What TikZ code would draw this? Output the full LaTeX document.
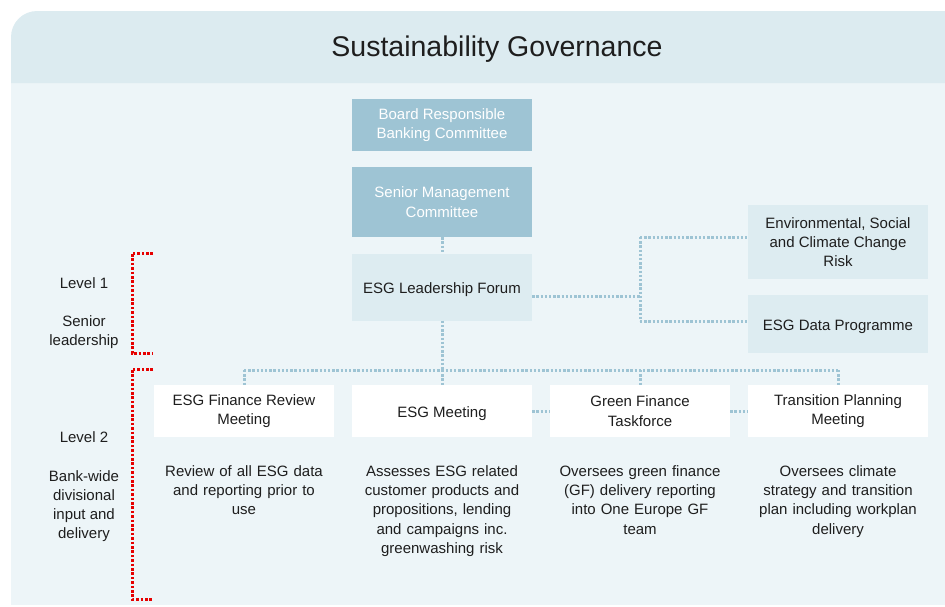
\documentclass[tikz,border=0pt]{standalone}
\usepackage{fontspec}
\setmainfont{Liberation Sans}
\usetikzlibrary{positioning}

\definecolor{hdrblue}{RGB}{220,235,240}
\definecolor{bodyblue}{RGB}{237,245,248}
\definecolor{dkblue}{RGB}{158,196,212}
\definecolor{ltblue}{RGB}{221,236,241}
\definecolor{inkgray}{RGB}{30,30,30}
\definecolor{dotred}{RGB}{230,0,0}

\begin{document}
\begin{tikzpicture}[x=1pt, y=-1pt, font=\fontsize{15}{19.3}\selectfont, text=inkgray,
        box/.style = {minimum width=180pt, align=center, inner sep=2pt, execute at begin node={\rule{0pt}{17pt}}},
        dark/.style = {box, fill=dkblue, text=white},
        light/.style = {box, fill=ltblue},
        plain/.style = {box, fill=white, minimum height=52pt},
        desc/.style = {align=center, inner sep=0pt, text width=176pt},
        conn/.style = {draw=dkblue, line width=3pt, dash pattern=on 2.4pt off 1.8pt},
        bracket/.style = {draw=dotred, line width=3pt, dash pattern=on 2.6pt off 1.8pt}]
    \useasboundingbox (0,0) rectangle (945,606);
    % panel
    \fill[bodyblue] (11,83) rectangle (945,605);
    \fill[hdrblue] (11,83) -- (11,37) arc[start angle=180, end angle=90, radius=26pt] -- (945,11) -- (945,83) -- cycle;
    \node (title) at (497,49) {\fontsize{28.5}{34}\selectfont Sustainability Governance};

    % level 1
    \node [dark, minimum height=52pt] (brbc) at (442,125) {Board Responsible\\Banking Committee};
    \node [dark, minimum height=70pt] (smc) at (442,202) {Senior Management\\Committee};
    \node [light, minimum height=67pt] (elf) at (442,287) {ESG Leadership Forum};
    \node [light, minimum height=74pt] (escc) at (838,242) {Environmental, Social\\and Climate Change\\Risk};
    \node [light, minimum height=58pt] (edp) at (838,324) {ESG Data Programme};

    % level 2
    \node [plain] (finrev) at (244,411) {ESG Finance Review\\Meeting};
    \node [plain] (esgmtg) at (442,411) {ESG Meeting};
    \node [plain] (gftask) at (640,411) {Green Finance\\Taskforce};
    \node [plain] (transpl) at (838,411) {Transition Planning\\Meeting};

    \node [desc, below=28pt of finrev] (finrevtxt) {Review of all ESG data\\and reporting prior to\\use};
    \node [desc, below=28pt of esgmtg] (esgmtgtxt) {Assesses ESG related\\customer products and\\propositions, lending\\and campaigns inc.\\greenwashing risk};
    \node [desc, below=28pt of gftask] (gftasktxt) {Oversees green finance\\(GF) delivery reporting\\into One Europe GF\\team};
    \node [desc, below=28pt of transpl] (transpltxt) {Oversees climate\\strategy and transition\\plan including workplan\\delivery};

    % side labels
    \node [align=center] (lvlone) at (84,313) {Level 1\\[19pt]Senior\\leadership};
    \node [align=center] (lvltwo) at (84,487) {Level 2\\[19pt]Bank-wide\\divisional\\input and\\delivery};

    % connectors
    \coordinate (fork) at (640,296);
    \coordinate (bus) at (442,370);
    \draw[conn] (smc) -- (elf);
    \draw[conn] (elf.east |- fork) -- (fork);
    \draw[conn] (640,237) -- (escc.west |- 0,237);
    \draw[conn] (640,321) -- (edp.west |- 0,321);
    \draw[conn] (640,237) -- (640,321);
    \draw[conn] (elf) -- (bus);
    \draw[conn] (finrev.north |- bus) -- (transpl.north |- bus);
    \foreach \n in {finrev, esgmtg, gftask, transpl}
        \draw[conn] (\n.north |- bus) -- (\n.north);
    \draw[conn] (esgmtg) -- (gftask);
    \draw[conn] (gftask) -- (transpl);

    % brackets
    \coordinate (lvlonetop) at (153,253);
    \coordinate (lvlonebot) at (153,353);
    \coordinate (lvltwotop) at (153,369);
    \coordinate (lvltwobot) at (153,599);
    \draw[bracket] (lvlonetop) -- (132,253) -- (132,353) -- (lvlonebot);
    \draw[bracket] (lvltwotop) -- (132,369) -- (132,599) -- (lvltwobot);
\end{tikzpicture}
\end{document}
